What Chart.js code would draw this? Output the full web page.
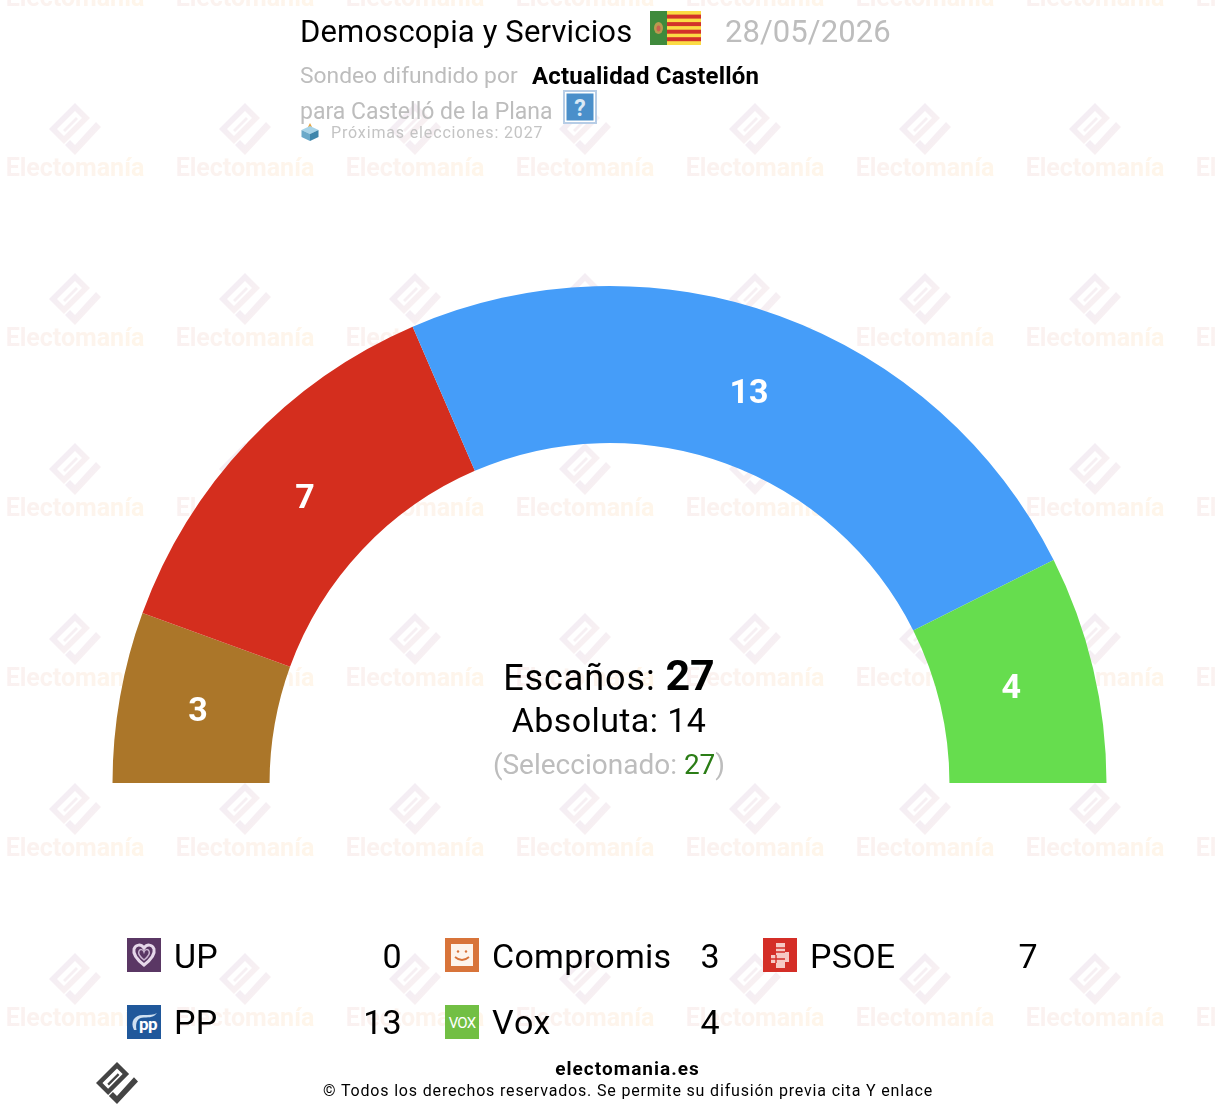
<!DOCTYPE html>
<html lang="es">
<head>
<meta charset="UTF-8">
<title>Demoscopia y Servicios - Castelló de la Plana</title>
<script src="https://cdn.jsdelivr.net/npm/chart.js"></script>
<style>
    html, body { margin: 0; padding: 0; background: #fff; }
    body { width: 1216px; height: 1112px; position: relative; overflow: hidden; font-family: Roboto, sans-serif; color: #000; }
    #watermark, canvas { position: absolute; left: 0; top: 0; }
    #watermark { width: 1216px; height: 1112px; }
    .t { position: absolute; white-space: nowrap; line-height: 1; }
    .c { transform: translateX(-50%); }
    .grey { color: #bdbdbd; }
    .icon { position: absolute; width: 34px; height: 34px; }
    .name { font-size: 34px; letter-spacing: 0.27px; font-kerning: none; }
    .val { font-size: 34px; text-align: right; width: 80px; }
</style>
</head>
<body>
<div id="watermark"></div>
<canvas id="seatsChart" width="1216" height="1112"></canvas>

<div class="t" style="left:300px;top:16px;font-size:31px;letter-spacing:0.15px">Demoscopia y Servicios</div>
<svg class="icon" style="left:650px;top:11px;width:51px;height:34px" viewBox="0 0 51 34">
    <rect width="51" height="34" fill="#fbdc45"/>
    <rect x="17" y="3.6" width="34" height="4" fill="#d2322a"/>
    <rect x="17" y="11.1" width="34" height="4" fill="#d2322a"/>
    <rect x="17" y="18.7" width="34" height="4" fill="#d2322a"/>
    <rect x="17" y="26.2" width="34" height="4" fill="#d2322a"/>
    <rect width="17" height="34" fill="#3f8a3c"/>
    <ellipse cx="8.5" cy="17" rx="4.5" ry="6" fill="#b89a4e"/>
    <ellipse cx="8.5" cy="17.5" rx="2" ry="3" fill="#c9604e"/>
</svg>
<div class="t grey" style="left:725px;top:16px;font-size:31px;letter-spacing:0.07px">28/05/2026</div>

<div class="t grey" style="left:300px;top:65px;font-size:22.8px">Sondeo difundido por</div>
<div class="t" style="left:532px;top:64px;font-size:24px;font-weight:700;letter-spacing:0.2px">Actualidad Castellón</div>
<div class="t grey" style="left:300px;top:100px;font-size:23px">para Castelló de la Plana</div>
<svg class="icon" style="left:563px;top:90px" viewBox="0 0 34 34">
    <rect width="34" height="34" fill="#b7cde6"/>
    <rect x="2" y="2" width="30" height="30" fill="#fff"/>
    <rect x="3.5" y="3.5" width="27" height="27" fill="#4a8fca"/>
    <text x="17" y="26" font-family="Roboto" font-size="23" font-weight="700" fill="#dbe9f5" text-anchor="middle">?</text>
</svg>
<svg class="icon" style="left:300px;top:122px;width:20px;height:20px" viewBox="0 0 20 20">
    <path d="M8 5 L10 1 L12 5 L12 8 L8 8 Z" fill="#e8a23c"/>
    <path d="M10 4 L18.5 8 L10 12 L1.5 8 Z" fill="#a6d3e8"/>
    <path d="M1.5 8 L10 12 L10 19 L1.5 15 Z" fill="#6aa9c9"/>
    <path d="M18.5 8 L10 12 L10 19 L18.5 15 Z" fill="#3f86ab"/>
</svg>
<div class="t" style="left:331px;top:125px;font-size:16px;letter-spacing:0.85px;color:#c4c4c4">Próximas elecciones: 2027</div>

<div class="t c" style="left:609px;top:654px;font-size:36px;letter-spacing:0.9px">Escaños: <b id="total" style="font-size:43px;letter-spacing:0"></b></div>
<div class="t c" style="left:609px;top:703px;font-size:34px;letter-spacing:0.4px">Absoluta: <span id="majority"></span></div>
<div class="t c grey" style="left:609px;top:751px;font-size:28px">(Seleccionado: <span id="selected" style="color:#2b7d16"></span>)</div>

<div id="legend"></div>

<svg class="icon" style="left:96px;top:1062px;width:42px;height:42px" viewBox="0 0 52 52" id="brand"></svg>
<div class="t c" style="left:627.5px;top:1059px;font-size:19px;font-weight:700;letter-spacing:1px">electomania.es</div>
<div class="t c" style="left:628px;top:1083px;font-size:16px;letter-spacing:0.83px">© Todos los derechos reservados. Se permite su difusión previa cita Y enlace</div>

<script>
    const parties = ["UP", "Compromis", "PSOE", "PP", "Vox"];
    const seats = [0, 3, 7, 13, 4];
    const arcColors = ["#5a3764", "#ab7629", "#d42e1e", "#459df9", "#66dd4e"];
    const totalSeats = 27;
    const majoritySeats = 14;
    const selectedSeats = 27;

    document.getElementById("total").textContent = totalSeats;
    document.getElementById("majority").textContent = majoritySeats;
    document.getElementById("selected").textContent = selectedSeats;

    // electomania mark, same drawing for the watermark and the footer
    function logoShapes(a, b) {
        return '<path fill-rule="evenodd" fill="' + a + '" d="M26 0 L41 15 L15 41 L0 26 Z M26 8 L8 26 L15 33 L33 15 Z M27 14 L29 16 L16 29 L14 27 Z"/>' +
               '<path fill="' + b + '" d="M47 19 L52 24 L26 52 L16 42 L21 37 L26 42 Z"/>';
    }
    document.getElementById("brand").innerHTML = logoShapes("#444", "#444");

    // watermark tile, repeated over the page behind the chart
    const tile = '<svg xmlns="http://www.w3.org/2000/svg" width="170" height="170">' +
        '<defs><linearGradient id="g" x1="0" x2="1" y1="0" y2="0"><stop offset="0" stop-color="#faf1f1"/><stop offset="1" stop-color="#fff6ea"/></linearGradient>' +
        '<linearGradient id="l" x1="0" x2="1" y1="0" y2="1"><stop offset="0" stop-color="#f0ebf6"/><stop offset="1" stop-color="#fcf3f0"/></linearGradient></defs>' +
        '<g transform="translate(49,13)">' + logoShapes("url(#l)", "url(#l)") + '</g>' +
        '<text x="75" y="85.5" text-anchor="middle" font-family="Roboto" font-weight="700" font-size="25" fill="url(#g)">Electomanía</text></svg>';
    const wm = document.getElementById("watermark");
    wm.style.backgroundImage = 'url("data:image/svg+xml,' + encodeURIComponent(tile) + '")';
    wm.style.backgroundPosition = "0 90px";

    const partyIcons = {
        UP: '<rect width="34" height="34" fill="#5a3764"/><path d="M17 27 C8 20 6 15 7 11 C9 6 14 6 17 10 C20 6 25 6 27 11 C28 15 26 20 17 27 Z" fill="none" stroke="#e6d8ea" stroke-width="3"/><path d="M17 22 C12 18 11 15 12 13 C13 11 16 11 17 14 C18 11 21 11 22 13 C23 15 22 18 17 22 Z" fill="none" stroke="#cbb6d2" stroke-width="1.5"/>',
        Compromis: '<rect width="34" height="34" fill="#d8743a"/><rect x="6" y="6" width="22" height="22" fill="#fdf4ec"/><circle cx="13" cy="13.5" r="1.2" fill="#d8743a"/><circle cx="21" cy="13.5" r="1.2" fill="#d8743a"/><path d="M10 19 Q17 25 24 19" fill="none" stroke="#d8743a" stroke-width="1.8"/>',
        PSOE: '<rect width="34" height="34" fill="#d42e27"/><path d="M13 5 H22 V14 H26 V24 H22 V30 H13 V25 H8 V17 H13 Z" fill="#f6c9c4"/><path d="M13 10 H22 M13 14 H22 M8 21 H22 M13 17 V25" stroke="#d42e27" stroke-width="1.4" fill="none"/>',
        PP: '<rect width="34" height="34" fill="#20589b"/><path d="M7 25 C3 17 7 10 16 10 C22 10 27 10 30 8 C27 12 23 12.5 17 12.5 C11 12.5 8 17 9.5 25 Z" fill="#cfe0f1"/><text x="21" y="25" text-anchor="middle" font-family="Roboto" font-weight="700" font-size="17" letter-spacing="-0.5" fill="#fff">pp</text>',
        Vox: '<rect width="34" height="34" fill="#72bf44"/><text x="17" y="22.5" text-anchor="middle" font-family="Roboto" font-size="15" letter-spacing="-0.8" fill="#fff">VOX</text>'
    };

    // legend, three columns by two rows
    const legendEl = document.getElementById("legend");
    parties.forEach((name, i) => {
        const col = i % 3, rowIdx = Math.floor(i / 3);
        const x = 127 + col * 318;
        const iconY = 938 + rowIdx * 67, textY = 939 + rowIdx * 66;
        legendEl.insertAdjacentHTML("beforeend",
            '<svg class="icon" style="left:' + x + 'px;top:' + iconY + 'px" viewBox="0 0 34 34">' + partyIcons[name] + '</svg>' +
            '<div class="t name" style="left:' + (x + 47) + 'px;top:' + textY + 'px">' + name + '</div>' +
            '<div class="t val" style="left:' + (x + 194.5) + 'px;top:' + textY + 'px">' + seats[i] + '</div>');
    });

    // seat numbers on the arcs
    const arcLabels = {
        id: "arcLabels",
        afterDatasetsDraw(chart) {
            const { ctx } = chart;
            ctx.save();
            ctx.font = "700 34px Roboto";
            ctx.fillStyle = "#fff";
            ctx.textAlign = "center";
            ctx.textBaseline = "middle";
            chart.getDatasetMeta(0).data.forEach((arc, i) => {
                if (!seats[i]) return;
                const mid = (arc.startAngle + arc.endAngle) / 2;
                const r = arc.innerRadius + (arc.outerRadius - arc.innerRadius) * 0.48;
                ctx.fillText(seats[i], arc.x - 2.5 + Math.cos(mid) * r, arc.y + 2 + Math.sin(mid) * r);
            });
            ctx.restore();
        }
    };

    new Chart(document.getElementById("seatsChart").getContext("2d"), {
        type: "doughnut",
        data: {
            labels: parties,
            datasets: [{
                data: seats,
                backgroundColor: arcColors,
                borderWidth: 0
            }]
        },
        options: {
            responsive: false,
            animation: false,
            rotation: -90,
            circumference: 180,
            cutout: "68.4%",
            layout: { padding: { left: 112.5, right: 109.5, top: 286, bottom: 329 } },
            plugins: { legend: { display: false }, tooltip: { enabled: false } }
        },
        plugins: [arcLabels]
    });
</script>
</body>
</html>
